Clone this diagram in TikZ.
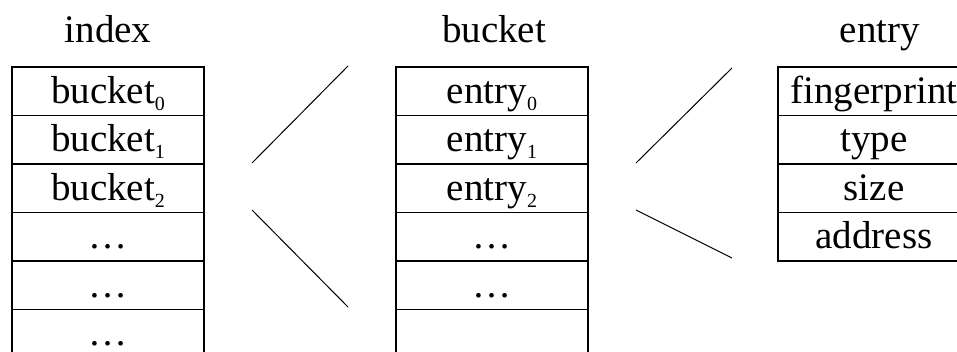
\documentclass[tikz,border=0pt]{standalone}
\usepackage{fontspec}
\setmainfont{Liberation Serif}
\newcommand\lowidx[1]{\raisebox{-7pt}{\fontsize{20}{20}\selectfont #1}}
\tikzset{
  every node/.style={font=\fontsize{39}{44}\selectfont},
  cell/.style={draw, line width=1.5pt, inner sep=0pt, minimum width=192pt,
               text height=36.5pt, text depth=12pt, anchor=north},
  title/.style={anchor=base, inner sep=0pt},
  link/.style={line width=1pt}
}
\begin{document}
\begin{tikzpicture}[x=1pt,y=-1pt]
  \useasboundingbox (0,0) rectangle (957,351);
  \clip (0,0) rectangle (957,351);

  % column titles
  \node[title] (tindex)  at (108,42) {index};
  \node[title] (tbucket) at (494,42) {bucket};
  \node[title] (tentry)  at (880,42) {entry};

  % index table
  \node[cell] (i0) at (108,66)    {bucket\lowidx{0}};
  \node[cell] (i1) at (108,114.5) {bucket\lowidx{1}};
  \node[cell] (i2) at (108,163)   {bucket\lowidx{2}};
  \node[cell] (i3) at (108,211.5) {\dots};
  \node[cell] (i4) at (108,260)   {\dots};
  \node[cell] (i5) at (108,308.5) {\dots};

  % bucket table
  \node[cell] (b0) at (492,66)    {entry\lowidx{0}};
  \node[cell] (b1) at (492,114.5) {entry\lowidx{1}};
  \node[cell] (b2) at (492,163)   {entry\lowidx{2}};
  \node[cell] (b3) at (492,211.5) {\dots};
  \node[cell] (b4) at (492,260)   {\dots};
  \node[cell] (b5) at (492,308.5) {};

  % entry record
  \node[cell] (e0) at (874,66)    {fingerprint};
  \node[cell] (e1) at (874,114.5) {type};
  \node[cell] (e2) at (874,163)   {size};
  \node[cell] (e3) at (874,211.5) {address};

  % expansion wedges
  \coordinate (wa1) at (252,163);
  \coordinate (wa2) at (348,66);
  \coordinate (wa3) at (252,210);
  \coordinate (wa4) at (348,307);
  \coordinate (wb1) at (636,163);
  \coordinate (wb2) at (732,68);
  \coordinate (wb3) at (636,210);
  \coordinate (wb4) at (732,258);
  \draw[link] (wa1) -- (wa2);
  \draw[link] (wa3) -- (wa4);
  \draw[link] (wb1) -- (wb2);
  \draw[link] (wb3) -- (wb4);
\end{tikzpicture}
\end{document}
